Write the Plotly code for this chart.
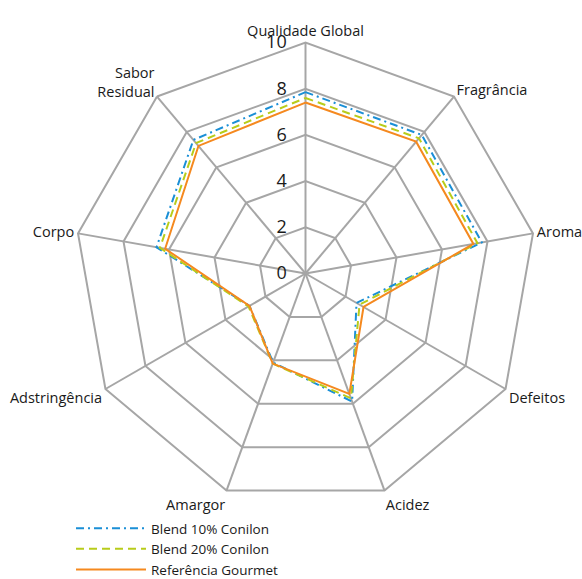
import plotly.graph_objects as go

# Sensory attributes (clockwise from the top)
categories = ["Qualidade Global", "Fragrância", "Aroma", "Defeitos", "Acidez",
              "Amargor", "Adstringência", "Corpo", "Sabor<br>Residual"]

blend_10 = [7.85, 7.83, 7.75, 2.55, 5.9, 4.1, 2.8, 6.55, 7.55]
blend_20 = [7.6, 7.64, 7.56, 2.7, 5.75, 4.15, 2.85, 6.4, 7.37]
referencia = [7.4, 7.45, 7.38, 2.9, 5.55, 4.15, 2.8, 6.17, 7.21]

radial_ticks = [0, 2, 4, 6, 8, 10]

series = [
    ("Blend 10% Conilon", blend_10, "#1A8FD6", "8px,4px,2px,4px"),
    ("Blend 20% Conilon", blend_20, "#B8CC1A", "8px,5px"),
    ("Referência Gourmet", referencia, "#F5891F", "solid"),
]

GRID = "#a6a6a6"
FONT = "Open Sans"
INK = "#1a1a1a"

fig = go.Figure()
for name, vals, color, dash in series:
    fig.add_trace(go.Scatterpolar(
        r=vals + vals[:1],
        theta=categories + categories[:1],
        mode="lines",
        name=name,
        line=dict(color=color, width=2, dash=dash),
    ))

W, H = 582, 579
cx, cy, rad = 305.5, 273.5, 231
fig.update_layout(
    width=W, height=H,
    # the legend sits low on the page; keep it from resizing the plot area
    margin=dict(l=0, r=0, t=0, b=0, autoexpand=False),
    paper_bgcolor="white",
    font=dict(family=FONT, size=14, color=INK),
    polar=dict(
        domain=dict(x=[(cx - rad) / W, (cx + rad) / W],
                    y=[(H - cy - rad) / H, (H - cy + rad) / H]),
        bgcolor="white",
        gridshape="linear",
        angularaxis=dict(
            rotation=90, direction="clockwise",
            showline=True, linecolor=GRID, linewidth=2,
            showgrid=True, gridcolor=GRID, gridwidth=2,
            ticks="", tickfont=dict(family=FONT, size=14.5, color=INK),
        ),
        radialaxis=dict(
            range=[0, 10], tickvals=radial_ticks, angle=90,
            side="counterclockwise", tickangle=90,
            showline=False, showgrid=True, gridcolor=GRID, gridwidth=2,
            ticks="outside", ticklen=12, tickcolor="rgba(0,0,0,0)",
            tickfont=dict(family=FONT, size=18, color=INK),
        ),
    ),
    showlegend=True,
    legend=dict(
        x=71 / W, y=1 - 513 / H, xanchor="left", yanchor="top",
        bgcolor="rgba(0,0,0,0)",
        font=dict(family=FONT, size=13.5, color=INK),
        itemwidth=70,
        tracegroupgap=0,
    ),
)

fig.write_html("out.html")
